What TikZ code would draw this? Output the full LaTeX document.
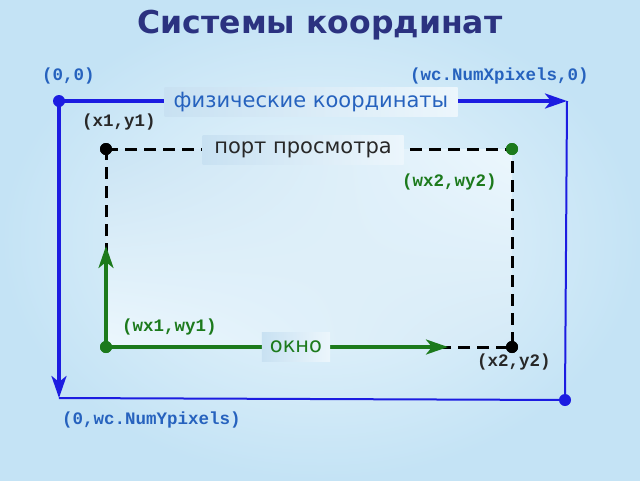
\documentclass[tikz,border=0pt]{standalone}
\usepackage{fontspec}
\setmainfont{DejaVu Sans}
\setmonofont{Liberation Mono}
\usetikzlibrary{arrows.meta, shadings}
\definecolor{titlenavy}{RGB}{43,50,128}
\definecolor{axisblue}{RGB}{28,28,225}
\definecolor{labelblue}{RGB}{38,98,190}
\definecolor{wingreen}{RGB}{28,122,28}
\definecolor{darktext}{RGB}{40,40,40}
\definecolor{bgwhite}{RGB}{236,247,253}
\definecolor{bgblue}{RGB}{196,227,245}
\definecolor{vpblue}{RGB}{202,228,244}
\definecolor{boxblue}{RGB}{200,225,242}
\definecolor{boxwhite}{RGB}{236,246,252}

\tikzset{
  dot/.style={circle, fill, inner sep=0pt, minimum size=12pt},
  coordlabel/.style={inner sep=0pt, anchor=west, font=\ttfamily\bfseries\fontsize{17.5}{17.5}\selectfont},
  tagbox/.style={inner xsep=8pt, inner ysep=0pt, minimum height=29pt,
    left color=boxblue, right color=boxwhite, font=\fontsize{21}{21}\selectfont},
  thickaxis/.style={axisblue, line width=3.5pt, -{Stealth[length=22pt, width=15pt, inset=6pt]}},
  thinaxis/.style={axisblue, line width=2pt},
  dashline/.style={black, line width=3pt, dash pattern=on 12pt off 7pt},
  winarrow/.style={wingreen, line width=3.2pt, -{Stealth[length=22pt, width=15pt, inset=6pt]}}
}

\begin{document}
\begin{tikzpicture}[x=1pt, y=-1pt]
  % background
  \shade[inner color=bgwhite, outer color=bgblue] (0,0) rectangle (640,480);
  \useasboundingbox (0,0) rectangle (640,480);

  \node[font=\bfseries\fontsize{31.5}{31.5}\selectfont, titlenavy] (title) at (320,25) {Системы координат};

  % physical coordinates
  \node[dot, axisblue] (org) at (59,101) {};
  \node[dot, axisblue] (corner) at (565,400) {};
  \coordinate (xend) at (567,101);
  \coordinate (yend) at (59,398);
  \draw[thinaxis] (xend) -- (corner.center) -- (yend);
  \draw[thickaxis] (org.center) -- (xend);
  \draw[thickaxis] (org.center) -- (yend);
  \node[tagbox, labelblue, minimum width=293pt] (phys) at (311,102) {физические координаты};

  \node[coordlabel, labelblue] (lorg) at (42,76) {(0,0)};
  \node[coordlabel, labelblue] (lxmax) at (410,76) {(wc.NumXpixels,0)};
  \node[coordlabel, labelblue] (lymax) at (62,420) {(0,wc.NumYpixels)};

  % viewport and window
  \shade[upper left=vpblue, upper right=bgwhite, lower left=bgwhite, lower right=vpblue!70!bgwhite]
    (106,149) rectangle (512,347);
  \node[dot, black] (vp1) at (106,149) {};
  \node[dot, black] (vp2) at (512,347) {};
  \node[dot, wingreen] (win2) at (512,149) {};
  \node[dot, wingreen] (win1) at (106,347) {};
  \coordinate (wyend) at (106,246);
  \coordinate (wxend) at (448,347);
  \draw[dashline] (vp1.center) -- (win2.center) -- (vp2.center) -- (win1.center) -- cycle;
  \draw[winarrow] (win1.center) -- (wyend);
  \draw[winarrow] (win1.center) -- (wxend);
  \node[dot, black] at (vp1) {};
  \node[dot, black] at (vp2) {};
  \node[dot, wingreen] at (win2) {};
  \node[dot, wingreen] at (win1) {};

  \node[tagbox, darktext, minimum width=201pt] (port) at (303,150) {порт просмотра};
  \node[tagbox, wingreen, minimum width=68pt] (okno) at (296,347) {окно};

  \node[coordlabel, darktext] (lvp1) at (82,122) {(x1,y1)};
  \node[coordlabel, darktext] (lvp2) at (477,362) {(x2,y2)};
  \node[coordlabel, wingreen] (lwin1) at (122,327) {(wx1,wy1)};
  \node[coordlabel, wingreen] (lwin2) at (402,182) {(wx2,wy2)};
\end{tikzpicture}
\end{document}
